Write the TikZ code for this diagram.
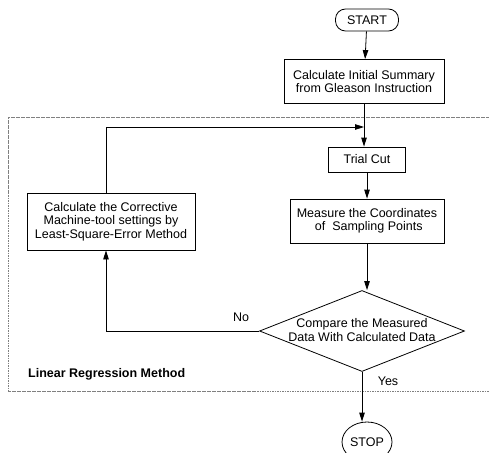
\documentclass[tikz,border=0pt]{standalone}
\usepackage{fontspec}
\setmainfont{Liberation Sans}
\usetikzlibrary{shapes.geometric,arrows.meta}

\begin{document}
\begin{tikzpicture}[x=1pt,y=-1pt,
  every node/.style={font=\fontsize{12.5}{13.5}\selectfont},
  flowbox/.style={draw,line width=0.8pt,inner sep=0pt,align=center},
  flowline/.style={line width=0.8pt,-{Triangle[length=9pt,width=5.5pt]}},
  frameline/.style={draw=black!50,line width=0.7pt,dash pattern=on 1.6pt off 0.9pt},
  tag/.style={inner sep=0pt}
]
\useasboundingbox (0,0) rectangle (489,452);

% region of the linear regression loop
\draw[frameline] (495,117) -- (8,117) -- (8,391) -- (495,391);
\node[tag,anchor=west,font=\bfseries\fontsize{12.5}{14}\selectfont] (lrm) at (28,374) {Linear Regression Method};

% main column
\node[flowbox,rounded corners=10pt,minimum width=63pt,minimum height=22pt] (start) at (367,20) {START};
\node[flowbox,minimum width=160pt,minimum height=44pt] (init) at (364,81.5) {Calculate Initial Summary\\from Gleason Instruction};
\node[flowbox,minimum width=77pt,minimum height=25pt] (trial) at (367,159.5) {Trial Cut};
\node[flowbox,minimum width=154pt,minimum height=44pt] (measure) at (367,221) {Measure the Coordinates\\\ of\ \ Sampling Points};
\node[draw,line width=0.8pt,diamond,inner sep=0pt,minimum width=205pt,minimum height=81pt,
      label={[align=center,inner sep=0pt,yshift=1pt]center:Compare the Measured\\Data With Calculated Data}] (compare) at (362,331) {};
\node[draw,line width=0.8pt,ellipse,inner sep=0pt,minimum width=50pt,minimum height=40pt] (stop) at (367,442) {STOP};

% corrective branch
\node[flowbox,minimum width=168pt,minimum height=57pt] (corr) at (111,221.5) {Calculate the Corrective\\Machine-tool settings by\\Least-Square-Error Method};

% connectors
\coordinate (merge) at (init.south |- 0,127);
\coordinate (loopbot) at ([xshift=-5pt]corr.south |- compare.west);
\coordinate (looptop) at ([xshift=-5pt]corr.north |- merge);

\draw[flowline] (start) -- (init);
\draw[flowline] (init.south) -- (init.south |- trial.north);
\draw[flowline] (trial) -- (trial.south |- measure.north);
\draw[flowline] (measure.south) -- (measure.south |- compare.north);
\draw[flowline] (compare.west) -- (loopbot) -- ([xshift=-5pt]corr.south);
\draw[flowline] ([xshift=-5pt]corr.north) -- (looptop) -- (merge);
\draw[flowline] (compare.south) -- (compare.south |- stop.north);

\node[tag] (no) at (241,317) {No};
\node[tag] (yes) at (388,381) {Yes};
\end{tikzpicture}
\end{document}
